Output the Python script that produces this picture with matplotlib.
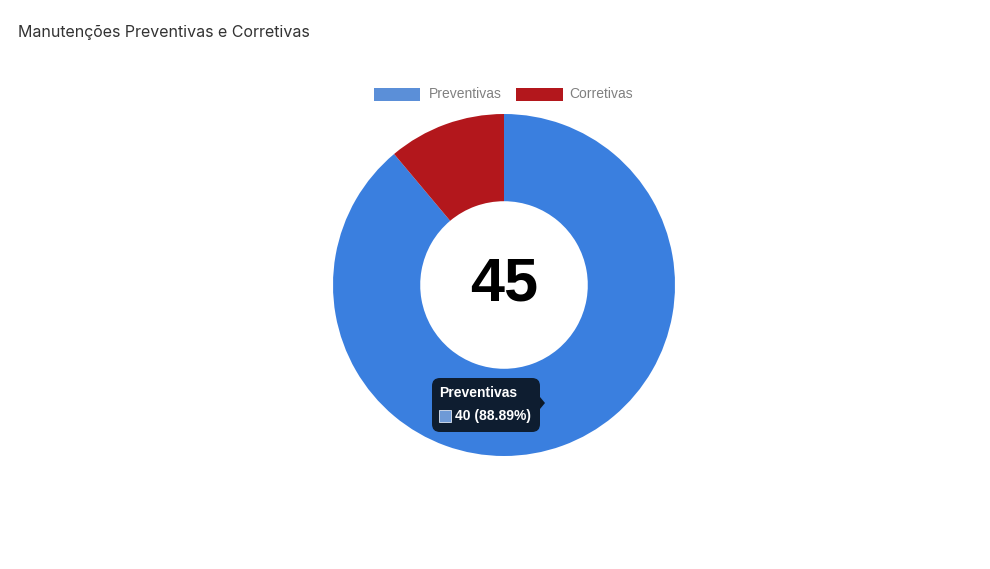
import matplotlib
matplotlib.use("Agg")
import matplotlib.pyplot as plt
from matplotlib.patches import FancyBboxPatch, Rectangle, Polygon

labels = ["Preventivas", "Corretivas"]
values = [40, 5]
colors = ["#3a7fdf", "#b3171c"]
legend_colors = ["#5b8fd8", "#b3171c"]
title = "Manutenções Preventivas e Corretivas"

W, H = 990, 569
fig = plt.figure(figsize=(W / 100, H / 100), dpi=100)
fig.patch.set_facecolor("white")

def fx(x):
    return x / W

def fy(y):
    return 1 - y / H

# Doughnut
cx, cy, r = 504, 285, 171
ax = fig.add_axes([fx(cx - r), fy(cy + r), 2 * r / W, 2 * r / H])
ax.pie(values, colors=colors, startangle=90, counterclock=False, radius=1,
       wedgeprops=dict(width=0.51, edgecolor="none", linewidth=0))
ax.set_xlim(-1, 1)
ax.set_ylim(-1, 1)
ax.set_aspect("equal")
ax.axis("off")

total = sum(values)
fig.text(fx(504), fy(285), str(total), ha="center", va="center", fontsize=44,
         fontweight="bold", color="#000000", family="Liberation Sans")

# Title
fig.text(fx(18), fy(32), title, ha="left", va="center", fontsize=11.5,
         color="#333333", family="Inter")

# Legend
legend_items = [(374, 420, 429), (516, 563, 569)]
for (x0, x1, tx), lab, col in zip(legend_items, labels, legend_colors):
    fig.patches.append(Rectangle((fx(x0), fy(101)), fx(x1) - fx(x0), fy(88) - fy(101),
                                 transform=fig.transFigure, facecolor=col, edgecolor="none"))
    fig.text(fx(tx), fy(94), lab, ha="left", va="center", fontsize=10,
             color="#808080", family="Liberation Sans")

# Tooltip
tx0, tx1, ty0, ty1 = 432, 540, 378, 432
tip = FancyBboxPatch((fx(tx0), fy(ty1)), fx(tx1) - fx(tx0), fy(ty0) - fy(ty1),
                     boxstyle="round,pad=0,rounding_size=0.008",
                     transform=fig.transFigure, facecolor="#0c1826", edgecolor="none",
                     alpha=0.95, mutation_aspect=W / H)
fig.patches.append(tip)
fig.patches.append(Polygon([(fx(540), fy(397)), (fx(545), fy(403)), (fx(540), fy(409))],
                           closed=True, transform=fig.transFigure,
                           facecolor="#0c1826", edgecolor="none"))
fig.text(fx(439), fy(393), labels[0], ha="left", va="center", fontsize=10,
         fontweight="bold", color="white", family="Liberation Sans")
fig.patches.append(Rectangle((fx(439), fy(422)), fx(451) - fx(439), fy(410) - fy(422),
                             transform=fig.transFigure, facecolor="#6f9ad6",
                             edgecolor="#dfe8f5", linewidth=0.6))
pct = values[0] / total * 100
fig.text(fx(455), fy(416), f"{values[0]} ({pct:.2f}%)", ha="left", va="center",
         fontsize=10, fontweight="bold", color="white", family="Liberation Sans")

fig.savefig("out.png", dpi=100, facecolor="white")
